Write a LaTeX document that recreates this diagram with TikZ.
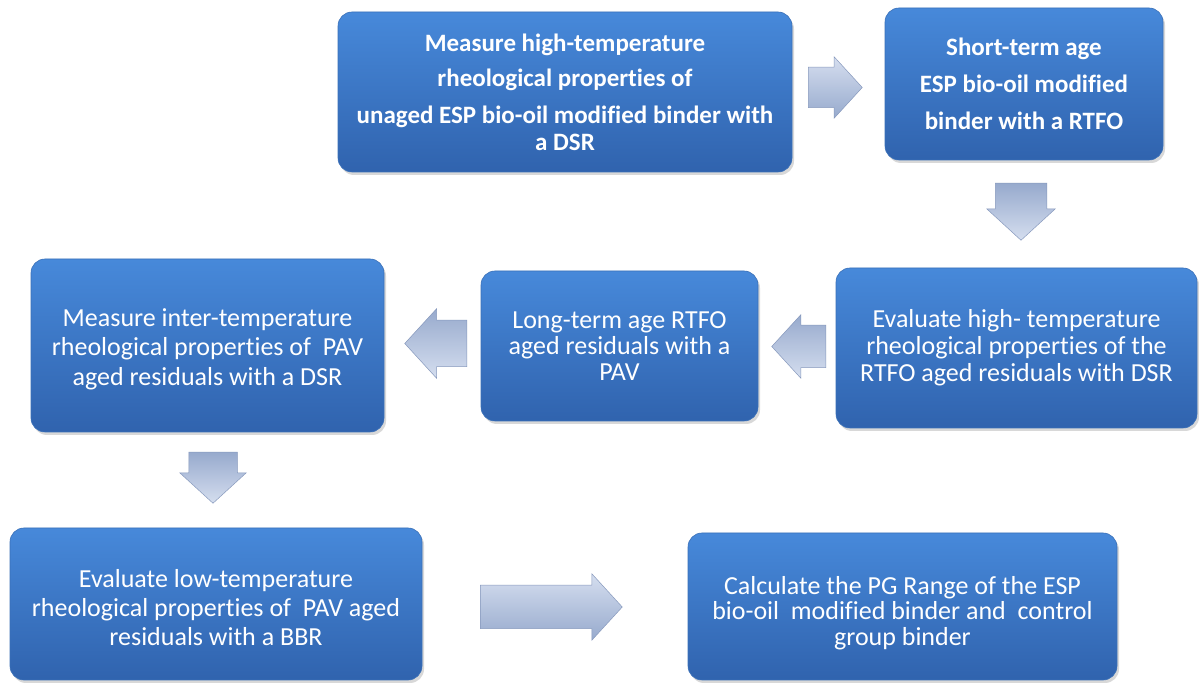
\documentclass[tikz,border=0pt]{standalone}
\usepackage{fontspec}
\setmainfont{Carlito}[Ligatures=NoCommon]
\usetikzlibrary{shapes.arrows,shadows}
\definecolor{boxtop}{HTML}{4789DA}
\definecolor{boxbot}{HTML}{3063AE}
\definecolor{boxedge}{HTML}{3A70B8}
\definecolor{arrtop}{HTML}{D5DEEF}
\definecolor{arrbot}{HTML}{97AACD}
\definecolor{arredge}{HTML}{8799BD}
\newcommand{\shiftedtext}[3]{\raisebox{#1}[0pt][0pt]{\parbox{#2}{\centering #3}}}
\begin{document}
\begin{tikzpicture}[x=1pt,y=1pt,
  stepbox/.style={rectangle, rounded corners=14pt, top color=boxtop, bottom color=boxbot,
    draw=boxedge, line width=0.6pt, text=white, align=center, inner sep=0pt,
    drop shadow={shadow xshift=2pt, shadow yshift=-3pt, opacity=0.3}},
  blockarrow/.style={single arrow, inner xsep=0pt, draw=arredge, line width=0.5pt,
    single arrow tip angle=95, anchor=tail},
  arrowR/.style={blockarrow, top color=arrtop, bottom color=arrbot},
  arrowL/.style={blockarrow, rotate=180, top color=arrbot, bottom color=arrtop},
  arrowD/.style={blockarrow, rotate=270, top color=arrbot, bottom color=arrtop},
  regfont/.style={font=\fontsize{26}{#1}\selectfont}
]
\useasboundingbox (0,0) rectangle (1199,685);
\fill[white] (0,0) rectangle (1199,685);

% boxes
\node[stepbox, minimum width=454pt, minimum height=160pt, font=\bfseries\fontsize{25}{27}\selectfont] (b1) at (565,593)
  {Measure high-temperature\\[8pt] rheological properties of\\[10pt] unaged ESP bio-oil modified binder with\\ a DSR};
\node[stepbox, minimum width=278pt, minimum height=152pt, font=\bfseries\fontsize{25}{37}\selectfont] (b2) at (1024,601)
  {Short-term age\\ ESP bio-oil modified\\ binder with a RTFO};
\node[stepbox, minimum width=361pt, minimum height=160pt, regfont=27] (b3) at (1016.5,337)
  {Evaluate high- temperature\\ rheological properties of the\\ RTFO aged residuals with DSR};
\node[stepbox, minimum width=277pt, minimum height=150pt, regfont=26] (b4) at (619.5,339)
  {Long-term age RTFO\\ aged residuals with a\\ PAV};
\node[stepbox, minimum width=353pt, minimum height=173pt, regfont=29.5] (b5) at (207.5,339.5)
  {\shiftedtext{-10pt}{340pt}{Measure inter-temperature\\ rheological properties of\ \ PAV\\ aged residuals with a DSR}};
\node[stepbox, minimum width=412pt, minimum height=152pt, regfont=29] (b6) at (216,81)
  {\shiftedtext{-9.5pt}{400pt}{Evaluate low-temperature\\ rheological properties of\ \ PAV aged\\ residuals with a BBR}};
\node[stepbox, minimum width=429pt, minimum height=147pt, regfont=25.5] (b7) at (902.5,78.5)
  {\shiftedtext{-12.5pt}{420pt}{Calculate the PG Range of the ESP\\ bio-oil\ \ modified binder and\ \ control\\ group binder}};

% block arrows
\node[arrowR, minimum height=54pt, inner ysep=20pt, single arrow head extend=10.5pt] (a1) at (808,597.5) {};
\node[arrowD, minimum height=57pt, inner ysep=25.5pt, single arrow head extend=8.5pt] (a2) at (1021,502) {};
\node[arrowL, minimum height=54pt, inner ysep=21pt, single arrow head extend=10.5pt] (a3) at (826,338.5) {};
\node[arrowL, minimum height=62pt, inner ysep=23pt, single arrow head extend=11.5pt] (a4) at (467,341.5) {};
\node[arrowD, minimum height=51pt, inner ysep=24pt, single arrow head extend=9pt] (a5) at (213,233) {};
\node[arrowR, minimum height=142pt, inner ysep=21.5pt, single arrow head extend=11.5pt] (a6) at (480,78) {};
\end{tikzpicture}
\end{document}
